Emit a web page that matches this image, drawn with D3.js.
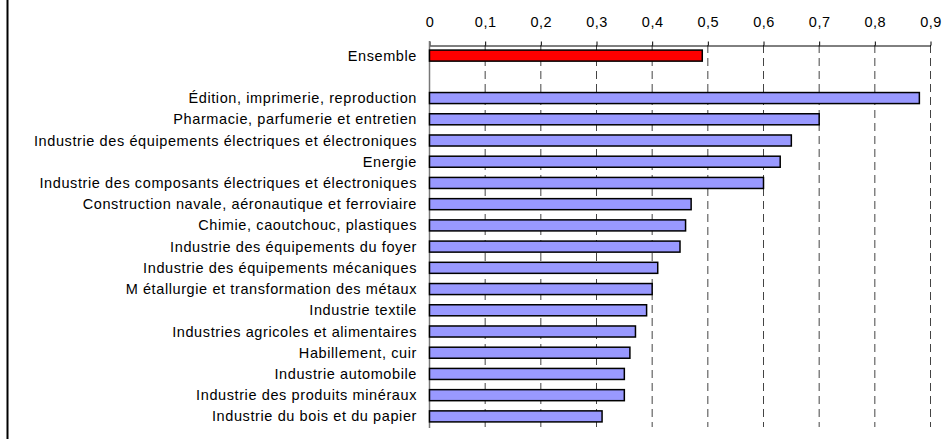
<!DOCTYPE html>
<html>
<head>
<meta charset="utf-8">
<script src="https://cdn.jsdelivr.net/npm/d3@7"></script>
<style>
  body { margin: 0; background: #fff; }
  svg { display: block; font-family: "Liberation Sans", Arial, sans-serif; }
</style>
</head>
<body>
<div class="canvas"></div>
<script>
// catégories (le blanc entre "Ensemble" et le reste est une ligne vide)
const categories = [
    'Ensemble',
    '',
    'Édition, imprimerie, reproduction',
    'Pharmacie, parfumerie et entretien',
    'Industrie des équipements électriques et électroniques',
    'Energie',
    'Industrie des composants électriques et électroniques',
    'Construction navale, aéronautique et ferroviaire',
    'Chimie, caoutchouc, plastiques',
    'Industrie des équipements du foyer',
    'Industrie des équipements mécaniques',
    'M étallurgie et transformation des métaux',
    'Industrie textile',
    'Industries agricoles et alimentaires',
    'Habillement, cuir',
    'Industrie automobile',
    'Industrie des produits minéraux',
    'Industrie du bois et du papier'
];
const values = [0.49, null, 0.88, 0.70, 0.65, 0.63, 0.60, 0.47, 0.46, 0.45, 0.41, 0.40, 0.39, 0.37, 0.36, 0.35, 0.35, 0.31];
const ticks = [0, 0.1, 0.2, 0.3, 0.4, 0.5, 0.6, 0.7, 0.8, 0.9];

const width = 944, height = 439;

const svg = d3.select('.canvas')
    .append('svg')
    .attr('width', width)
    .attr('height', height);

// bord gauche du cadre
svg.append('line')
    .attr('x1', 7.5).attr('x2', 7.5)
    .attr('y1', 0).attr('y2', height)
    .attr('stroke', '#000')
    .attr('stroke-width', 2);

const x = d3.scaleLinear().domain([0, 0.9]).range([429, 930]);
const y = d3.scaleBand().domain(d3.range(categories.length)).range([45, 427]).paddingInner(0.48).paddingOuter(0.24);

const fmt = d => d3.format('.1~f')(d).replace('.', ',');

// quadrillage vertical pointillé
svg.append('g')
    .selectAll('line')
    .data(ticks.slice(1))
    .join('line')
    .attr('x1', d => x(d) + 0.5).attr('x2', d => x(d) + 0.5)
    .attr('y1', 45).attr('y2', 427)
    .attr('stroke', '#444')
    .attr('stroke-width', 1)
    .attr('stroke-dasharray', '8,5');

// axe du haut
const axis = svg.append('g')
    .attr('transform', 'translate(0.5,45.5)')
    .call(d3.axisTop(x).tickValues(ticks).tickFormat(fmt).tickSize(4).tickSizeOuter(0));
axis.select('.domain').attr('stroke', '#000');
axis.selectAll('.tick line').attr('stroke', '#000');
axis.selectAll('.tick text')
    .attr('font-size', 14.5)
    .attr('letter-spacing', '0.5px')
    .attr('font-family', '"Liberation Sans", Arial, sans-serif')
    .attr('fill', '#000')
    .attr('y', -18.5);

// axe vertical
svg.append('line')
    .attr('x1', 429.5).attr('x2', 429.5)
    .attr('y1', 41).attr('y2', 428)
    .attr('stroke', '#777')
    .attr('stroke-width', 1.5);

// barres
const idx = d3.range(categories.length).filter(i => values[i] != null);

svg.append('g')
    .selectAll('rect')
    .data(idx)
    .join('rect')
    .attr('x', x(0) + 0.5)
    .attr('y', i => y(i))
    .attr('width', i => x(values[i]) - x(0))
    .attr('height', y.bandwidth())
    .attr('fill', i => i === 0 ? '#ff0000' : '#9999ff')
    .attr('stroke', '#000')
    .attr('stroke-width', 1.5);

// libellés
svg.append('g')
    .selectAll('text')
    .data(idx)
    .join('text')
    .attr('x', 417)
    .attr('y', i => y(i) + y.bandwidth() / 2)
    .attr('dy', '0.35em')
    .attr('text-anchor', 'end')
    .attr('font-size', 14.5)
    .attr('letter-spacing', '0.6px')
    .attr('fill', '#000')
    .text(i => categories[i]);
</script>
</body>
</html>
